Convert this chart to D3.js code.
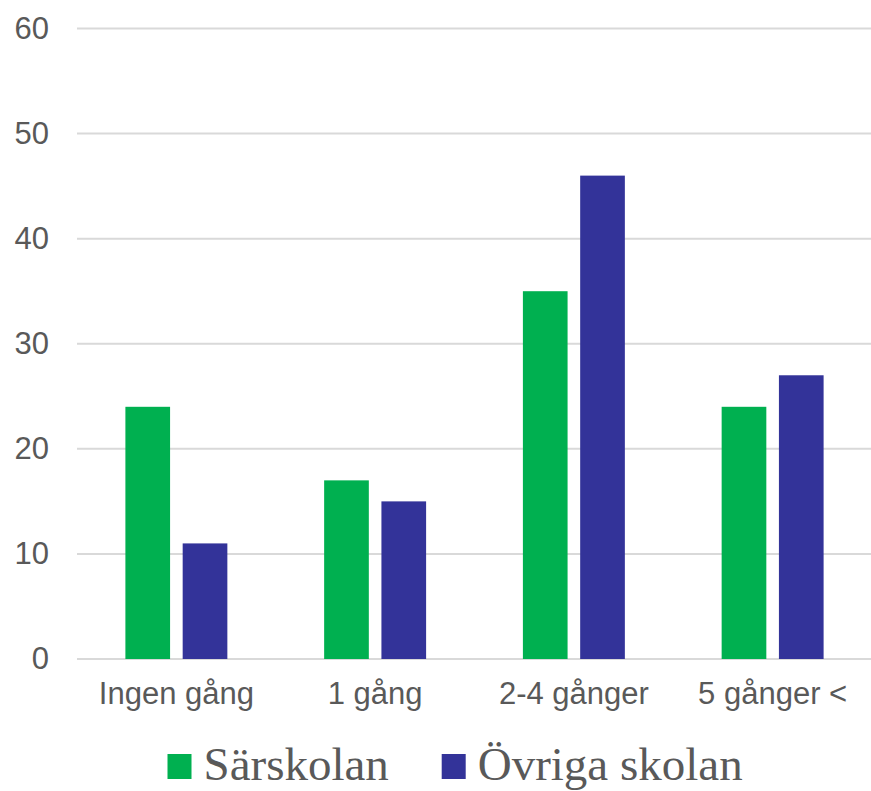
<!DOCTYPE html>
<html>
<head>
<meta charset="utf-8">
<script src="https://cdn.jsdelivr.net/npm/d3@7"></script>
<style>
  html, body { margin: 0; padding: 0; background: #fff; }
  svg { display: block; }
</style>
</head>
<body>
<svg id="chart" width="871" height="791"></svg>
<script>
const categories = ["Ingen gång", "1 gång", "2-4 gånger", "5 gånger <"];
const seriesNames = ["Särskolan", "Övriga skolan"];
const sarskolan = [24, 17, 35, 24];
const ovriga = [11, 15, 46, 27];
const yTicks = [0, 10, 20, 30, 40, 50, 60];
const colors = ["#00B050", "#333399"];

const seriesValues = [sarskolan, ovriga];
const data = categories.map((c, i) => ({
  cat: c,
  vals: seriesNames.map((s, j) => ({ key: s, value: seriesValues[j][i] }))
}));

const svg = d3.select("#chart");
const plotLeft = 77, plotRight = 872, plotTop = 28.5, plotBottom = 659;

const y = d3.scaleLinear().domain([0, 60]).range([plotBottom, plotTop]);
const x0 = d3.scaleBand().domain(categories).range([plotLeft, plotRight])
  .paddingInner(0.487).paddingOuter(0.2435);
const x1 = d3.scaleBand().domain(seriesNames).range([0, x0.bandwidth()])
  .paddingInner(0.22).paddingOuter(0);
const color = d3.scaleOrdinal().domain(seriesNames).range(colors);

// gridlines
svg.append("g").selectAll("line").data(yTicks).join("line")
  .attr("x1", plotLeft).attr("x2", 871)
  .attr("y1", d => y(d)).attr("y2", d => y(d))
  .attr("stroke", "#d9d9d9").attr("stroke-width", 2);

// y tick labels
const yAxis = svg.append("g").attr("transform", `translate(${plotLeft},0)`)
  .call(d3.axisLeft(y).tickValues(yTicks).tickSize(0).tickPadding(28));
yAxis.select(".domain").remove();
yAxis.selectAll("text")
  .attr("font-family", "'Liberation Sans', Arial, sans-serif")
  .attr("font-size", 31).attr("fill", "#595959");

// bars
const groups = svg.append("g").selectAll("g").data(data).join("g")
  .attr("transform", d => `translate(${x0(d.cat)},0)`);
groups.selectAll("rect").data(d => d.vals).join("rect")
  .attr("x", d => x1(d.key))
  .attr("width", x1.bandwidth())
  .attr("y", d => y(d.value))
  .attr("height", d => y(0) - y(d.value))
  .attr("fill", d => color(d.key));

// x axis labels
const xAxis = svg.append("g").attr("transform", `translate(0,${plotBottom})`)
  .call(d3.axisBottom(x0).tickSize(0).tickPadding(23));
xAxis.select(".domain").remove();
xAxis.selectAll("text")
  .attr("font-family", "'Liberation Sans', Arial, sans-serif")
  .attr("font-size", 31).attr("fill", "#595959");

// legend
const legendPos = [167.5, 441.7];
const legend = svg.append("g").selectAll("g").data(seriesNames).join("g")
  .attr("transform", (d, i) => `translate(${legendPos[i]},0)`);
legend.append("rect")
  .attr("x", 0).attr("y", 754).attr("width", 24).attr("height", 25)
  .attr("fill", d => color(d));
legend.append("text")
  .attr("x", 36).attr("y", 780)
  .attr("font-family", "'Liberation Serif', 'Times New Roman', serif")
  .attr("font-size", 47).attr("fill", "#595959")
  .text(d => d);
</script>
</body>
</html>
